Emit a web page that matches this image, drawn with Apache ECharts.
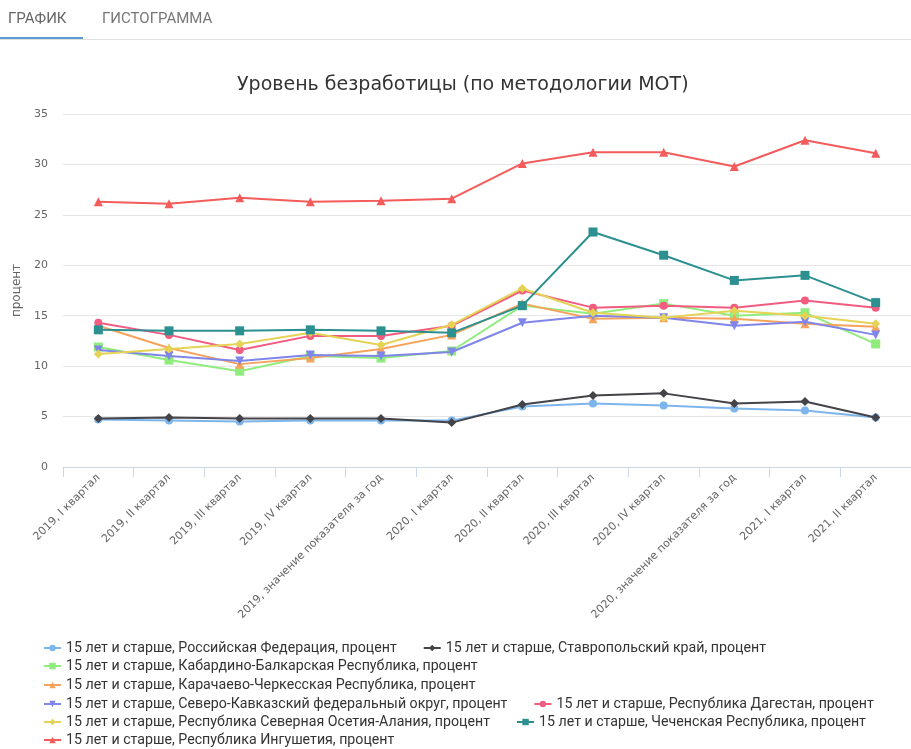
<!DOCTYPE html>
<html><head><meta charset="utf-8">
<script src="https://cdn.jsdelivr.net/npm/echarts@6/dist/echarts.min.js"></script>
<style>html,body{margin:0;padding:0;background:#fff}#c{width:911px;height:749px}</style>
</head><body><div id="c"></div>
<script>
const categories = ["2019, I квартал","2019, II квартал","2019, III квартал","2019, IV квартал","2019, значение показателя за год","2020, I квартал","2020, II квартал","2020, III квартал","2020, IV квартал","2020, значение показателя за год","2021, I квартал","2021, II квартал"];
const yTicks = [0,5,10,15,20,25,30,35];
const russia     = [4.7,4.6,4.5,4.6,4.6,4.6,6.0,6.3,6.1,5.8,5.6,4.9];
const stavropol  = [4.8,4.9,4.8,4.8,4.8,4.4,6.2,7.1,7.3,6.3,6.5,4.9];
const kabardino  = [11.9,10.6,9.5,11.0,10.8,11.5,16.0,15.2,16.2,15.0,15.3,12.2];
const karachay   = [14.0,11.8,10.2,10.8,11.7,13.1,16.2,14.7,14.8,14.7,14.2,13.9];
const ncfd       = [11.6,11.0,10.5,11.1,11.0,11.4,14.3,15.0,14.8,14.0,14.4,13.1];
const dagestan   = [14.3,13.1,11.6,13.0,13.0,14.0,17.5,15.8,16.0,15.8,16.5,15.8];
const ossetia    = [11.2,11.7,12.2,13.3,12.1,14.1,17.7,15.3,14.8,15.5,15.0,14.2];
const chechnya   = [13.6,13.5,13.5,13.6,13.5,13.3,16.0,23.3,21.0,18.5,19.0,16.3];
const ingushetia = [26.3,26.1,26.7,26.3,26.4,26.6,30.1,31.2,31.2,29.8,32.4,31.1];

const names = [
 "15 лет и старше, Российская Федерация, процент",
 "15 лет и старше, Ставропольский край, процент",
 "15 лет и старше, Кабардино-Балкарская Республика, процент",
 "15 лет и старше, Карачаево-Черкесская Республика, процент",
 "15 лет и старше, Северо-Кавказский федеральный округ, процент",
 "15 лет и старше, Республика Дагестан, процент",
 "15 лет и старше, Республика Северная Осетия-Алания, процент",
 "15 лет и старше, Чеченская Республика, процент",
 "15 лет и старше, Республика Ингушетия, процент"
];
const datas = [russia,stavropol,kabardino,karachay,ncfd,dagestan,ossetia,chechnya,ingushetia];
const colors = ["#7cb5ec","#434348","#90ed7d","#f7a35c","#8085e9","#f15c80","#e4d354","#2b908f","#f45b5b"];
const symbols = ["circle","diamond","rect","triangle","path://M0,0 L10,0 L5,10 Z","circle","diamond","rect","triangle"];
const sizes = [8,9,9,9,9,8,9,9,9];

const series = names.map((n,i)=>({
  name:n, type:'line', data:datas[i], symbol:symbols[i], symbolSize:sizes[i],
  showAllSymbol:true,
  lineStyle:{width:2,color:colors[i]}, itemStyle:{color:colors[i]},
  emphasis:{disabled:true}, z: 2+i
}));

const legendRows = [[0,1],[2],[3],[4,5],[6,7],[8]];
const legendTops = [641,659,678,697,715,733];
const legends = legendRows.map((r,k)=>({
  data:r.map(i=>names[i]), left:43, top:legendTops[k], orient:'horizontal',
  itemWidth:17, itemHeight:8, itemGap:26, selectedMode:false,
  textStyle:{fontFamily:'Roboto',fontSize:14.2,color:'#333'}, padding:0
}));

const chart = echarts.init(document.getElementById('c'));
chart.setOption({
  animation:false,
  color:colors,
  title:{text:'Уровень безработицы (по методологии МОТ)',left:232,top:71,
    textStyle:{fontFamily:'DejaVu Sans',fontSize:19,fontWeight:'normal',color:'#333'}},
  graphic:[
    {type:'text',left:8,top:12,style:{text:'ГРАФИК',fontFamily:'Roboto',fontSize:15,fill:'#666'}},
    {type:'text',left:102,top:12,style:{text:'ГИСТОГРАММА',fontFamily:'Roboto',fontSize:15,fill:'#777'}},
    {type:'rect',shape:{x:0,y:39,width:911,height:1},style:{fill:'#e0e0e0'}},
    {type:'rect',shape:{x:0,y:37,width:83,height:2},style:{fill:'#5b9bd5'}}
  ],
  legend:legends,
  grid:{left:63,right:-9,top:114,bottom:282,containLabel:false},
  xAxis:{type:'category',data:categories,boundaryGap:true,
    axisLine:{lineStyle:{color:'#ccd6eb'}},
    axisTick:{show:true,length:10,lineStyle:{color:'#ccd6eb'},alignWithLabel:false},
    axisLabel:{rotate:45,interval:0,fontFamily:'DejaVu Sans',fontSize:11,color:'#666',margin:9}},
  yAxis:{type:'value',min:0,max:35,interval:5,name:'процент',nameLocation:'middle',nameGap:39,
    nameTextStyle:{fontFamily:'DejaVu Sans',fontSize:12,color:'#666'},
    axisLabel:{fontFamily:'DejaVu Sans',fontSize:11,color:'#666',margin:15,
      formatter:v=>yTicks.includes(v)?String(v):''},
    splitLine:{lineStyle:{color:'#e6e6e6'}},axisLine:{show:false},axisTick:{show:false}},
  series:series
});
</script></body></html>
